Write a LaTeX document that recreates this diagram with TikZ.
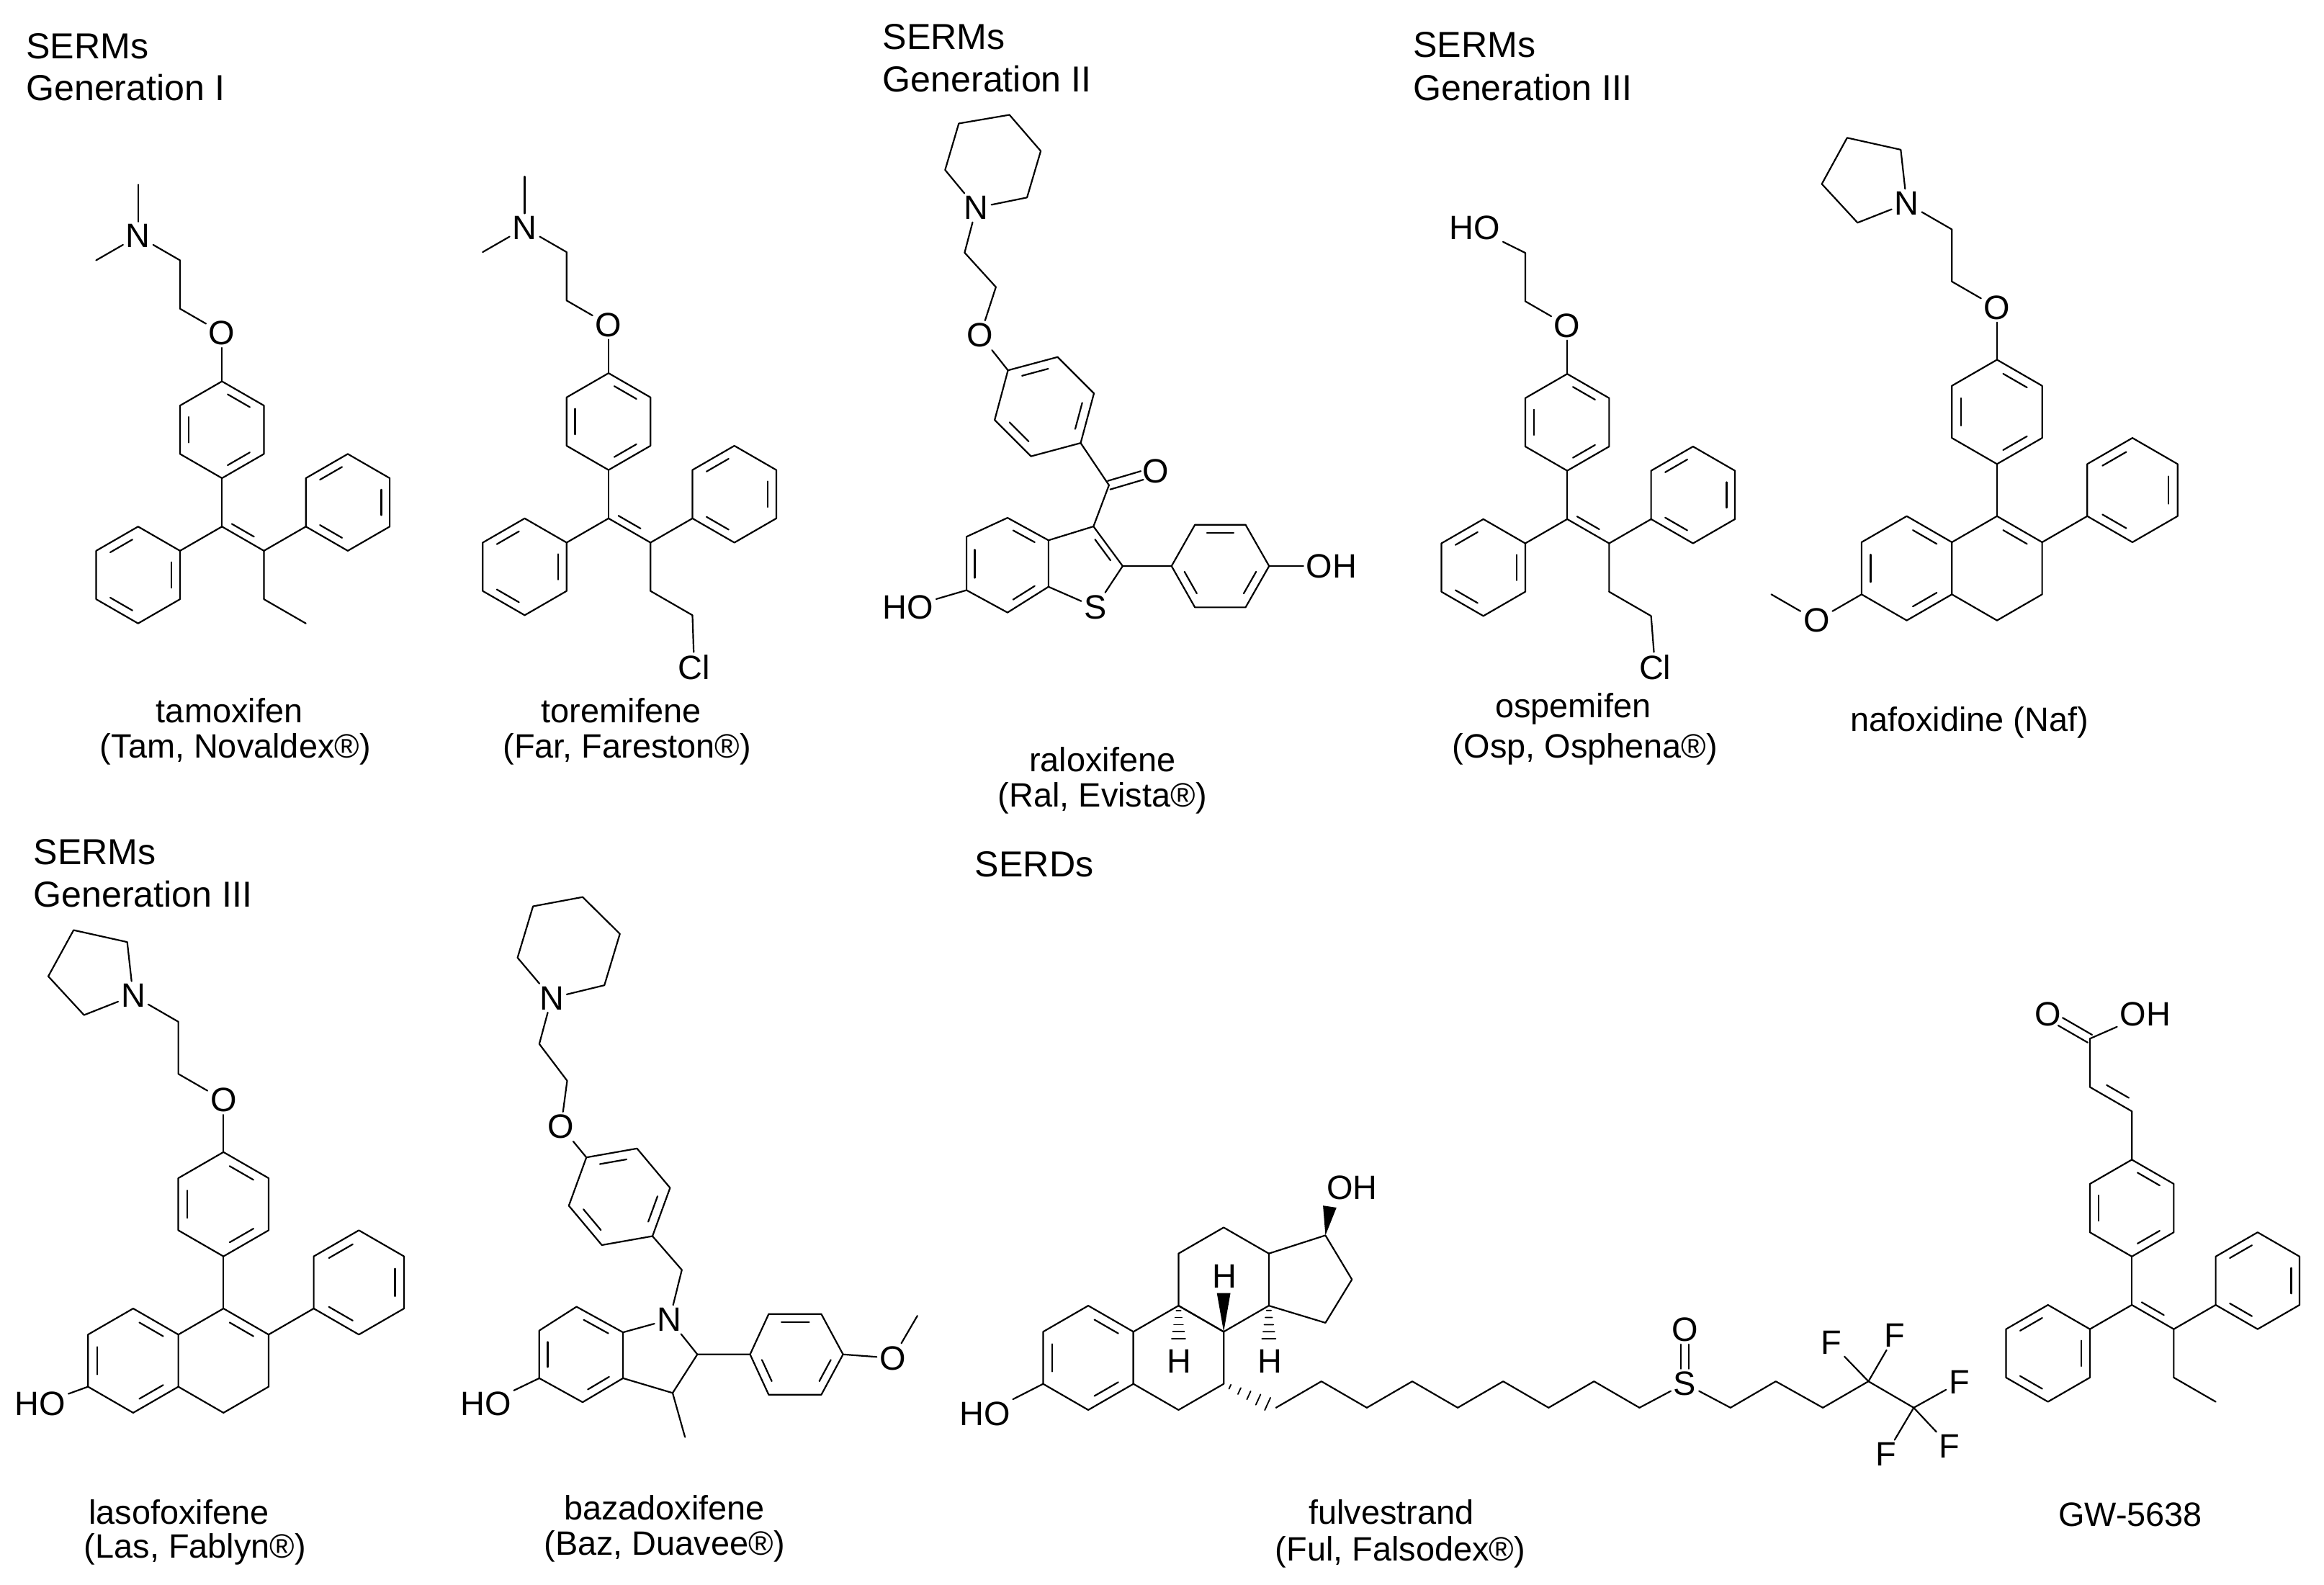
\documentclass[tikz,border=0pt]{standalone}
\usepackage{fontspec}
\setmainfont{Liberation Sans}
\usetikzlibrary{calc}
\newcommand\fs{\fontsize{12.9}{15.5}\selectfont}
\newcommand\fh{\fontsize{13.8}{16}\selectfont}
\newcommand\inner[3]{\draw ($(#1)!.17!(#2)!.2!(#3)$) -- ($(#1)!.83!(#2)!.2!(#3)$);}
\newcommand\hexr[6]{%
 \foreach \k in {0,...,5}{\coordinate (#1\k) at ({#2+#5*cos(#4+60*\k)},{#3+#5*sin(#4+60*\k)});}
 \coordinate (#1c) at (#2,#3);
 \draw (#10)--(#11)--(#12)--(#13)--(#14)--(#15)--cycle;
 \foreach \k in {#6}{\pgfmathtruncatemacro\kn{mod(\k+1,6)}\inner{#1\k}{#1\kn}{#1c}}}
\newcommand\cdo[2]{%
 \draw[shorten >=5.5pt] ($(#1)!1.7pt!90:(#2)$) -- ($(#2)!1.7pt!-90:(#1)$);
 \draw[shorten >=5.5pt] ($(#1)!1.7pt!-90:(#2)$) -- ($(#2)!1.7pt!90:(#1)$);}
\newcommand\hashb[2]{\foreach \t in {0.12,0.3,0.48,0.66,0.84}{\pgfmathsetmacro\w{0.6+2.4*\t}%
 \draw[line width=0.5pt] ($(#1)!\t!(#2)!\w pt!90:(#2)$) -- ($(#1)!\t!(#2)!\w pt!-90:(#2)$);}}
\newcommand\wedgeb[2]{\fill (#1) -- ($(#2)!2.6pt!90:(#1)$) -- ($(#2)!2.6pt!-90:(#1)$) -- cycle;}
% tamoxifen-type core, b=32.5
\newcommand\tamcore[3]{%
 \coordinate (#11) at (#2,#3);
 \hexr{#1a}{#2}{#3-65}{30}{32.5}{0,2,4}
 \draw (#11)--(#1a1);
 \hexr{#1l}{#2-56.3}{#3+32.5}{30}{32.5}{1,3,5}
 \draw (#11)--(#1l5);
 \coordinate (#12) at (#2+28.15,#3+16.25);
 \coordinate (#13) at (#2+28.15,#3+48.75);
 \coordinate (#1x) at (#2+14,#3-20);
 \draw (#11)--(#12)--(#13);
 \inner{#11}{#12}{#1x}
 \hexr{#1r}{#2+84.45}{#3-16.25}{30}{32.5}{1,3,5}
 \draw (#12)--(#1r2);}
% nafoxidine-type core, b=35
\newcommand\nafcore[3]{%
 \coordinate (#11) at (#2,#3);
 \coordinate (#12) at (#2+30.3,#3+17.5);
 \coordinate (#13) at (#2+30.3,#3+52.5);
 \coordinate (#14) at (#2,#3+70);
 \hexr{#1b}{#2-60.6}{#3+35}{30}{35}{0,2,4}
 \draw (#1b5)--(#11)--(#12)--(#13)--(#14)--(#1b0);
 \coordinate (#1x) at (#2,#3+35);
 \inner{#11}{#12}{#1x}
 \hexr{#1p}{#2+90.9}{#3-17.5}{30}{35}{1,3,5}
 \draw (#12)--(#1p2);
 \hexr{#1a}{#2}{#3-70}{30}{35}{0,2,4}
 \draw (#11)--(#1a1);
 \node[atom] (#1O) at (#2,#3-140) {O};
 \draw (#1a4)--(#1O);
 \coordinate (#1c1) at (#2-30.3,#3-157.5);
 \coordinate (#1c2) at (#2-30.3,#3-192.5);
 \node[atom] (#1N) at (#2-60.6,#3-210) {N};
 \draw (#1O)--(#1c1)--(#1c2)--(#1N);
 \coordinate (#1q1) at (#2-64.6,#3-246);
 \coordinate (#1q2) at (#2-100.6,#3-254);
 \coordinate (#1q3) at (#2-117.6,#3-223);
 \coordinate (#1q4) at (#2-93.6,#3-197);
 \draw (#1N)--(#1q1)--(#1q2)--(#1q3)--(#1q4)--(#1N);}
\begin{document}
\begin{tikzpicture}[x=0.02cm,y=-0.02cm,line width=0.6pt,line join=round,line cap=round,
 atom/.style={inner sep=0.8pt,font=\fs},
 lbl/.style={font=\fs,align=center,inner sep=0pt},
 hdr/.style={font=\fh,anchor=west,inner sep=0pt}]
\path[use as bounding box] (0,0) rectangle (1560,1064);
% headers
\node[hdr] (h1) at (17,31) {SERMs};
\node[hdr] (h2) at (17,59) {Generation I};
\node[hdr] (h3) at (592,25) {SERMs};
\node[hdr] (h4) at (592,53) {Generation II};
\node[hdr] (h5) at (948,30) {SERMs};
\node[hdr] (h6) at (948,59) {Generation III};
\node[hdr] (h7) at (22,572) {SERMs};
\node[hdr] (h8) at (22,600) {Generation III};
\node[hdr] (h9) at (654,580) {SERDs};
% tamoxifen
\tamcore{T}{149}{353.5}
\node[atom] (TO) at (149,223.5) {O};
\draw (Ta4)--(TO);
\coordinate (Tc1) at (120.85,207.25); \coordinate (Tc2) at (120.85,174.75);
\node[atom] (TN) at (92.7,158.5) {N};
\coordinate (Tm1) at (92.7,124); \coordinate (Tm2) at (64.5,174.75);
\draw (TO)--(Tc1)--(Tc2)--(TN); \draw (TN)--(Tm1); \draw (TN)--(Tm2);
\coordinate (Te) at (205.3,418.5); \draw (T3)--(Te);
\node[lbl] (t1) at (154,477) {tamoxifen};
\node[lbl] (t2) at (158,503) {(Tam, Novaldex®)};
% toremifene
\tamcore{Q}{408.5}{348}
\node[atom] (QO) at (408.5,218) {O};
\draw (Qa4)--(QO);
\coordinate (Qc1) at (380.35,201.75); \coordinate (Qc2) at (380.35,169.25);
\node[atom] (QN) at (352.2,153) {N};
\coordinate (Qm1) at (352.2,118.5); \coordinate (Qm2) at (324,169.25);
\draw (QO)--(Qc1)--(Qc2)--(QN); \draw (QN)--(Qm1); \draw (QN)--(Qm2);
\coordinate (Qe) at (464.8,413);
\node[atom] (QCl) at (466,448) {Cl};
\draw (Q3)--(Qe)--(QCl);
\node[lbl] (t3) at (417,477) {toremifene};
\node[lbl] (t4) at (421,503) {(Far, Fareston®)};
% ospemifene
\tamcore{P}{1052}{348.5}
\node[atom] (PO) at (1052,218.5) {O};
\draw (Pa4)--(PO);
\coordinate (Pc1) at (1023.85,202.25); \coordinate (Pc2) at (1023.85,169.75);
\node[atom] (PHO) at (990,153) {HO};
\draw (PO)--(Pc1)--(Pc2)--(PHO);
\coordinate (Pe) at (1108.3,413.5);
\node[atom] (PCl) at (1111,448) {Cl};
\draw (P3)--(Pe)--(PCl);
\node[lbl] (t7) at (1056,476) {ospemifen};
\node[lbl] (t8) at (1064,503) {(Osp, Osphena®)};
% GW-5638
\tamcore{G}{1431}{876}
\coordinate (Gv1) at (1431,746); \coordinate (Gv2) at (1402.85,729.75);
\coordinate (Gv3) at (1402.85,697.25); \coordinate (GOc) at (1374.7,681);
\coordinate (Gx2) at (1440,712);
\node[atom] (GO) at (GOc) {O};
\node[atom] (GOH) at (1440,681) {OH};
\draw (Ga4)--(Gv1)--(Gv2)--(Gv3)--(GOH);
\inner{Gv1}{Gv2}{Gx2}
\cdo{Gv3}{GOc}
\coordinate (Ge) at (1487.3,941); \draw (G3)--(Ge);
\node[lbl] (t16) at (1430,1017) {GW-5638};
% raloxifene
\node[atom] (RN) at (655.4,139.5) {N};
\coordinate (Rp1) at (689.4,132.6); \coordinate (Rp2) at (698.6,101.4);
\coordinate (Rp3) at (677.6,77.1); \coordinate (Rp4) at (643.6,82.9);
\coordinate (Rp5) at (634.4,114.1);
\draw (RN)--(Rp1)--(Rp2)--(Rp3)--(Rp4)--(Rp5)--(RN);
\coordinate (Rc1) at (647.5,169.6); \coordinate (Rc2) at (668.5,192.7);
\node[atom] (RO) at (658,225.1) {O};
\draw (RN)--(Rc1)--(Rc2)--(RO);
\hexr{Ra}{701}{273}{45}{34.5}{1,3,5}
\draw (RO)--(Ra3);
\coordinate (RC) at (744.4,325.7); \coordinate (ROc) at (775.9,316.4);
\node[atom] (RO2) at (ROc) {O};
\draw (Ra0)--(RC);
\cdo{RC}{ROc}
\coordinate (R3) at (734,353.4); \coordinate (R2) at (753.6,380);
\node[atom] (RS) at (735.3,407.7) {S};
\coordinate (R7a) at (703.8,393.9); \coordinate (R3a) at (703.8,362.7);
\coordinate (Rtc) at (726,379);
\draw (RC)--(R3)--(R2)--(RS)--(R7a)--(R3a)--(R3);
\inner{R3}{R2}{Rtc}
\coordinate (R4) at (676.3,347.6); \coordinate (R5) at (648.8,360.3);
\coordinate (R6) at (648.8,396.2); \coordinate (R7) at (676.3,411.2);
\coordinate (Rbc) at (676.3,379.5);
\draw (R3a)--(R4)--(R5)--(R6)--(R7)--(R7a);
\inner{R3a}{R4}{Rbc} \inner{R5}{R6}{Rbc} \inner{R7}{R7a}{Rbc}
\node[atom] (RHO) at (609.5,407.7) {HO};
\draw (R6)--(RHO);
\coordinate (Rq1) at (786.4,380); \coordinate (Rq2) at (802.1,352.3);
\coordinate (Rq3) at (836.1,352.3); \coordinate (Rq4) at (851.9,380);
\coordinate (Rq5) at (836.1,407.7); \coordinate (Rq6) at (802.1,407.7);
\coordinate (Rqc) at (819.1,380);
\draw (R2)--(Rq1)--(Rq2)--(Rq3)--(Rq4)--(Rq5)--(Rq6)--(Rq1);
\inner{Rq2}{Rq3}{Rqc} \inner{Rq4}{Rq5}{Rqc} \inner{Rq6}{Rq1}{Rqc}
\node[atom] (ROH) at (893.8,380) {OH};
\draw (Rq4)--(ROH);
\node[lbl] (t5) at (740,510) {raloxifene};
\node[lbl] (t6) at (740,536) {(Ral, Evista®)};
% nafoxidine
\nafcore{N}{1340.5}{346.5}
\node[atom] (NOm) at (1219.3,416.5) {O};
\coordinate (NMe) at (1189,399);
\draw (Nb2)--(NOm)--(NMe);
\node[lbl] (t9) at (1322,485) {nafoxidine (Naf)};
% lasofoxifene
\nafcore{L}{150}{878.4}
\node[atom] (LHO) at (27,942.5) {HO};
\draw (Lb2)--(LHO);
\node[lbl] (t10) at (120,1015) {lasofoxifene};
\node[lbl] (t11) at (131,1040) {(Las, Fablyn®)};
% bazedoxifene
\node[atom] (BN) at (370.3,670) {N};
\coordinate (Bp1) at (405.7,661.4); \coordinate (Bp2) at (416.1,626.9);
\coordinate (Bp3) at (391.1,602.2); \coordinate (Bp4) at (357.8,608.4);
\coordinate (Bp5) at (347.4,642.9);
\draw (BN)--(Bp1)--(Bp2)--(Bp3)--(Bp4)--(Bp5)--(BN);
\coordinate (Bc1) at (362,700.8); \coordinate (Bc2) at (380.7,725.5);
\node[atom] (BO) at (376.6,756.3) {O};
\draw (BN)--(Bc1)--(Bc2)--(BO);
\hexr{Ba}{415.8}{803.4}{50}{34.5}{1,3,5}
\draw (BO)--(Ba3);
\coordinate (Bch) at (457.7,852.5);
\node[atom] (BN1) at (449.4,885.8) {N};
\draw (Ba0)--(Bch)--(BN1);
\coordinate (B7a) at (418.2,894.4); \coordinate (B2) at (468.1,909.2);
\coordinate (B3) at (451.5,935.1); \coordinate (B3a) at (418.2,925.2);
\coordinate (Bme) at (459.8,964.7);
\draw (BN1)--(B2)--(B3)--(B3a)--(B7a)--(BN1);
\draw (B3)--(Bme);
\coordinate (B7) at (387,877.2); \coordinate (B6) at (362,893.2);
\coordinate (B5) at (362,925.2); \coordinate (B4) at (391.1,941.3);
\coordinate (Bbc) at (390,909.5);
\draw (B7a)--(B7)--(B6)--(B5)--(B4)--(B3a);
\inner{B7a}{B7}{Bbc} \inner{B6}{B5}{Bbc} \inner{B4}{B3a}{Bbc}
\node[atom] (BHO) at (326,942.5) {HO};
\draw (B5)--(BHO);
\coordinate (Bq1) at (503.5,909.2); \coordinate (Bq2) at (516,882.1);
\coordinate (Bq3) at (551.3,882.1); \coordinate (Bq4) at (565.9,909.2);
\coordinate (Bq5) at (551.3,936.3); \coordinate (Bq6) at (516,936.3);
\coordinate (Bqc) at (534.7,909.2);
\draw (B2)--(Bq1)--(Bq2)--(Bq3)--(Bq4)--(Bq5)--(Bq6)--(Bq1);
\inner{Bq2}{Bq3}{Bqc} \inner{Bq4}{Bq5}{Bqc} \inner{Bq6}{Bq1}{Bqc}
\node[atom] (BOm) at (599.2,911.7) {O};
\coordinate (BMe) at (615.8,883.3);
\draw (Bq4)--(BOm)--(BMe);
\node[lbl] (t12) at (446,1012) {bazadoxifene};
\node[lbl] (t13) at (446,1038) {(Baz, Duavee®)};
% fulvestrant
\hexr{Fa}{730.5}{911.5}{30}{35}{0,2,4}
\hexr{Fb}{791.1}{911.5}{30}{35}{}
\hexr{Fc}{821.4}{859}{30}{35}{}
\coordinate (Fd1) at (889.7,829.3); \coordinate (Fd2) at (907.5,858.9);
\coordinate (Fd3) at (889.7,888);
\draw (Fc5)--(Fd1)--(Fd2)--(Fd3)--(Fc0);
\coordinate (Fw) at (892.6,810);
\wedgeb{Fd1}{Fw}
\node[atom] (FOH) at (907.5,797.2) {OH};
\node[atom] (FHO) at (661,949) {HO};
\draw (Fa2)--(FHO);
\coordinate (Fh1) at (791.1,903); \hashb{Fb4}{Fh1}
\node[atom] (FH1) at (791.5,914) {H};
\coordinate (Fh2) at (821.4,868); \wedgeb{Fb5}{Fh2}
\node[atom] (FH2) at (822,857) {H};
\coordinate (Fh3) at (851.7,903); \hashb{Fc0}{Fh3}
\node[atom] (FH3) at (852.5,914) {H};
\foreach \i in {0,...,8}{\pgfmathsetmacro\xx{856.5+30.5*\i}\pgfmathsetmacro\yy{ifthenelse(mod(\i,2)==0,945,927.3)}\coordinate (Fz\i) at (\xx,\yy);}
\hashb{Fb0}{Fz0}
\draw (Fz0)--(Fz1)--(Fz2)--(Fz3)--(Fz4)--(Fz5)--(Fz6)--(Fz7)--(Fz8);
\node[atom] (FS) at (1131,928.8) {S};
\draw (Fz8)--(FS);
\node[atom] (FSO) at (1131,892.5) {O};
\draw ([xshift=-1.6pt]FS.north) -- ([xshift=-1.6pt]FSO.south);
\draw ([xshift=1.6pt]FS.north) -- ([xshift=1.6pt]FSO.south);
\coordinate (Fy1) at (1161.6,945); \coordinate (Fy2) at (1192,927.3);
\coordinate (Fy3) at (1223.6,945); \coordinate (Fcf2) at (1254.2,927.3);
\coordinate (Fcf3) at (1284.6,945);
\draw (FS)--(Fy1)--(Fy2)--(Fy3)--(Fcf2)--(Fcf3);
\node[atom] (FF1) at (1229.2,901.4) {F};
\node[atom] (FF2) at (1272,896.6) {F};
\node[atom] (FF3) at (1315.1,928) {F};
\node[atom] (FF4) at (1308.7,970.7) {F};
\node[atom] (FF5) at (1266,976.3) {F};
\draw (Fcf2)--(FF1); \draw (Fcf2)--(FF2);
\draw (Fcf3)--(FF3); \draw (Fcf3)--(FF4); \draw (Fcf3)--(FF5);
\node[lbl] (t14) at (934,1015) {fulvestrand};
\node[lbl] (t15) at (940,1042) {(Ful, Falsodex®)};
\end{tikzpicture}
\end{document}
